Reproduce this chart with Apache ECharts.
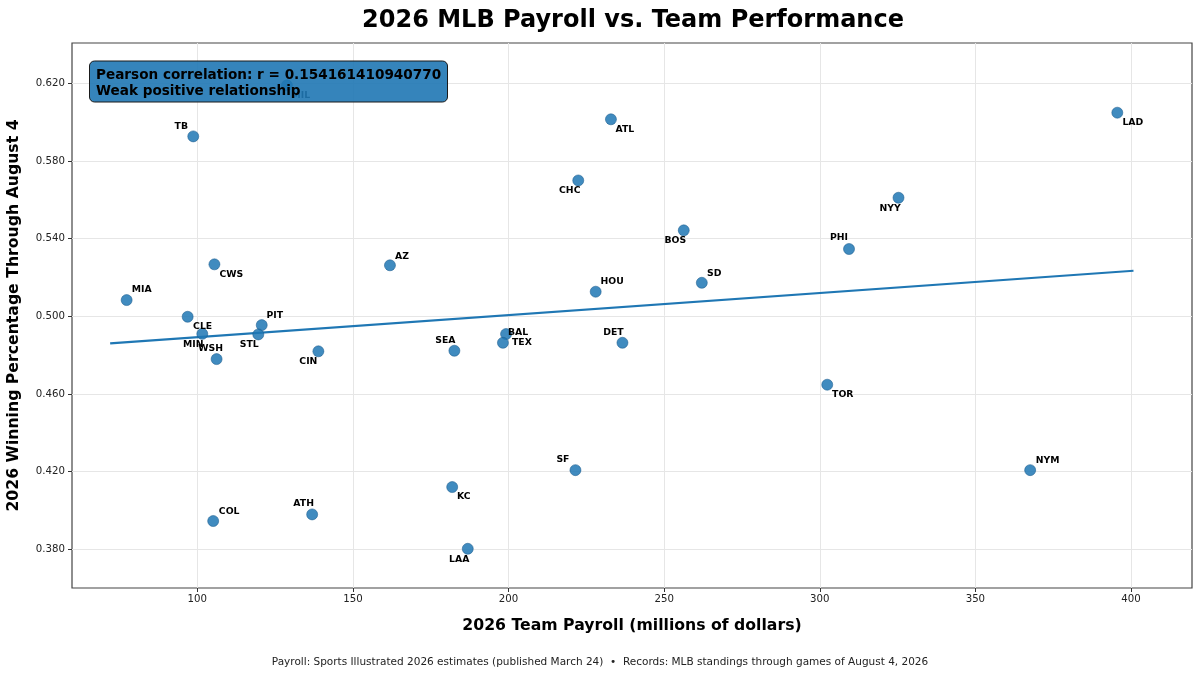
<!DOCTYPE html>
<html>
<head>
<meta charset="utf-8">
<title>2026 MLB Payroll vs. Team Performance</title>
<script src="https://cdn.jsdelivr.net/npm/echarts@6/dist/echarts.min.js"></script>
<style>
    html, body { margin: 0; padding: 0; background: #fff; }
    #chart { width: 1200px; height: 675px; }
</style>
</head>
<body>
<div id="chart"></div>
<script>
// 球队、薪资（百万美元）、胜率
var teams = ['TB', 'MIL', 'MIA', 'CWS', 'CLE', 'MIN', 'WSH', 'PIT', 'STL', 'CIN',
    'AZ', 'SEA', 'BAL', 'TEX', 'HOU', 'DET', 'CHC', 'ATL', 'BOS', 'SD',
    'PHI', 'NYY', 'LAD', 'TOR', 'NYM', 'SF', 'KC', 'LAA', 'ATH', 'COL'];
var payroll = [98.7, 128.8, 77.3, 105.5, 96.9, 101.6, 106.2, 120.7, 119.6, 138.9,
    161.9, 182.6, 199.2, 198.2, 228.0, 236.6, 222.4, 232.9, 256.3, 262.1,
    309.4, 325.3, 395.6, 302.4, 367.6, 221.5, 181.9, 186.9, 136.9, 105.1];
var winPct = [0.5927, 0.619, 0.5084, 0.5268, 0.4998, 0.491, 0.478, 0.4955, 0.4907, 0.482,
    0.5263, 0.4823, 0.4909, 0.4864, 0.5127, 0.4864, 0.570, 0.6015, 0.5443, 0.5173,
    0.5347, 0.5611, 0.6049, 0.4648, 0.4208, 0.4208, 0.4121, 0.3803, 0.398, 0.3946];

// 趋势线两端
var fitPayroll = [72.0, 400.8];
var fitWinPct = [0.4861, 0.5235];

var xTicks = [100, 150, 200, 250, 300, 350, 400];
var yTicks = [0.38, 0.42, 0.46, 0.50, 0.54, 0.58, 0.62];

var corrText = 'Pearson correlation: r = 0.154161410940770\nWeak positive relationship';
var footText = 'Payroll: Sports Illustrated 2026 estimates (published March 24)  \u2022  Records: MLB standings through games of August 4, 2026';

(function (window) {
    "use strict";

    var FONT = 'DejaVu Sans';

    // 标签相对点中心的偏移（像素）
    var labelShift = {
        TB: [-12, -10], MIL: [14, 10], MIA: [15, -10], CWS: [17, 10], CLE: [15, 10],
        MIN: [-9, 10.5], WSH: [-6, -10.5], PIT: [13, -9.5], STL: [-9, 10], CIN: [-10, 10.5],
        AZ: [12, -9], SEA: [-9, -10.5], BAL: [12, -1.5], TEX: [19, 0], HOU: [16.5, -10],
        DET: [-9, -10.5], CHC: [-8.5, 10.5], ATL: [14, 10], BOS: [-8.5, 10.5], SD: [12.5, -9.5],
        PHI: [-10, -11], NYY: [-8.5, 10.5], LAD: [15.5, 9.5], TOR: [15.5, 9.5], NYM: [17.5, -10],
        SF: [-12.5, -10.5], KC: [11.5, 9.5], LAA: [-8.5, 10.5], ATH: [-8.5, -11], COL: [16, -9.5]
    };

    var points = teams.map(function (t, i) {
        return {
            name: t,
            value: [payroll[i], winPct[i]],
            label: { offset: labelShift[t] || [10, -10] }
        };
    });

    var fitLine = fitPayroll.map(function (x, i) {
        return [x, fitWinPct[i]];
    });

    var chart = echarts.init(document.getElementById('chart'), null, { renderer: 'canvas' });

    var option = {
        backgroundColor: '#fff',
        animation: false,
        textStyle: { fontFamily: FONT },
        title: {
            text: '2026 MLB Payroll vs. Team Performance',
            left: 628,
            top: 4,
            textAlign: 'center',
            textStyle: { fontFamily: FONT, fontSize: 24, fontWeight: 'bold', color: '#000' }
        },
        grid: {
            left: 72, top: 43, width: 1120, height: 545,
            show: true, borderColor: '#444', borderWidth: 1.2,
            outerBoundsMode: 'none',
            containLabel: false
        },
        xAxis: {
            type: 'value',
            min: 59.74, max: 419.6,
            name: '2026 Team Payroll (millions of dollars)',
            nameLocation: 'middle',
            nameGap: 30,
            nameTextStyle: { fontFamily: FONT, fontSize: 15.7, fontWeight: 'bold', color: '#000' },
            axisLine: { show: false },
            axisTick: { show: true, length: 4, lineStyle: { color: '#333' }, customValues: xTicks },
            axisLabel: { customValues: xTicks, fontSize: 10.2, color: '#222', margin: 6, fontFamily: FONT },
            splitLine: { show: true, lineStyle: { color: '#e6e6e6', width: 1 } }
        },
        yAxis: {
            type: 'value',
            min: 0.3601, max: 0.6408,
            name: '2026 Winning Percentage Through August 4',
            nameLocation: 'middle',
            nameGap: 50,
            nameTextStyle: { fontFamily: FONT, fontSize: 15.7, fontWeight: 'bold', color: '#000' },
            axisLine: { show: false },
            axisTick: { show: true, length: 4, lineStyle: { color: '#333' }, customValues: yTicks },
            axisLabel: {
                customValues: yTicks, fontSize: 10.2, color: '#222', margin: 7, fontFamily: FONT,
                formatter: function (v) { return v.toFixed(3); }
            },
            splitLine: { show: true, lineStyle: { color: '#e6e6e6', width: 1 } }
        },
        series: [
            {
                name: 'fit',
                type: 'line',
                data: fitLine,
                symbol: 'none',
                z: 3,
                lineStyle: { color: '#1f77b4', width: 2.2 }
            },
            {
                name: 'teams',
                type: 'scatter',
                data: points,
                symbolSize: 11,
                z: 4,
                itemStyle: {
                    color: 'rgba(31,119,180,0.85)',
                    borderColor: 'rgba(25,90,140,0.9)',
                    borderWidth: 0.6,
                    opacity: 1
                },
                label: {
                    show: true,
                    position: 'inside',
                    formatter: '{b}',
                    fontFamily: FONT,
                    fontSize: 9.3,
                    fontWeight: 'bold',
                    color: '#000',
                    textBorderWidth: 0,
                    opacity: 1
                }
            }
        ],
        graphic: [
            {
                type: 'rect',
                z: 100,
                shape: { x: 89.5, y: 61, width: 358, height: 41, r: 5 },
                style: { fill: 'rgba(31,119,180,0.9)', stroke: '#1a1a1a', lineWidth: 1 }
            },
            {
                type: 'text',
                z: 101,
                x: 96, y: 67,
                style: {
                    text: corrText,
                    fontFamily: FONT, fontSize: 13.6, fontWeight: 'bold',
                    fill: '#000', lineHeight: 16
                }
            },
            {
                type: 'text',
                z: 100,
                x: 600, y: 662,
                style: {
                    text: footText,
                    fontFamily: FONT, fontSize: 10.5, fill: '#222',
                    align: 'center', verticalAlign: 'middle'
                }
            }
        ]
    };

    chart.setOption(option);
})(window);
</script>
</body>
</html>
